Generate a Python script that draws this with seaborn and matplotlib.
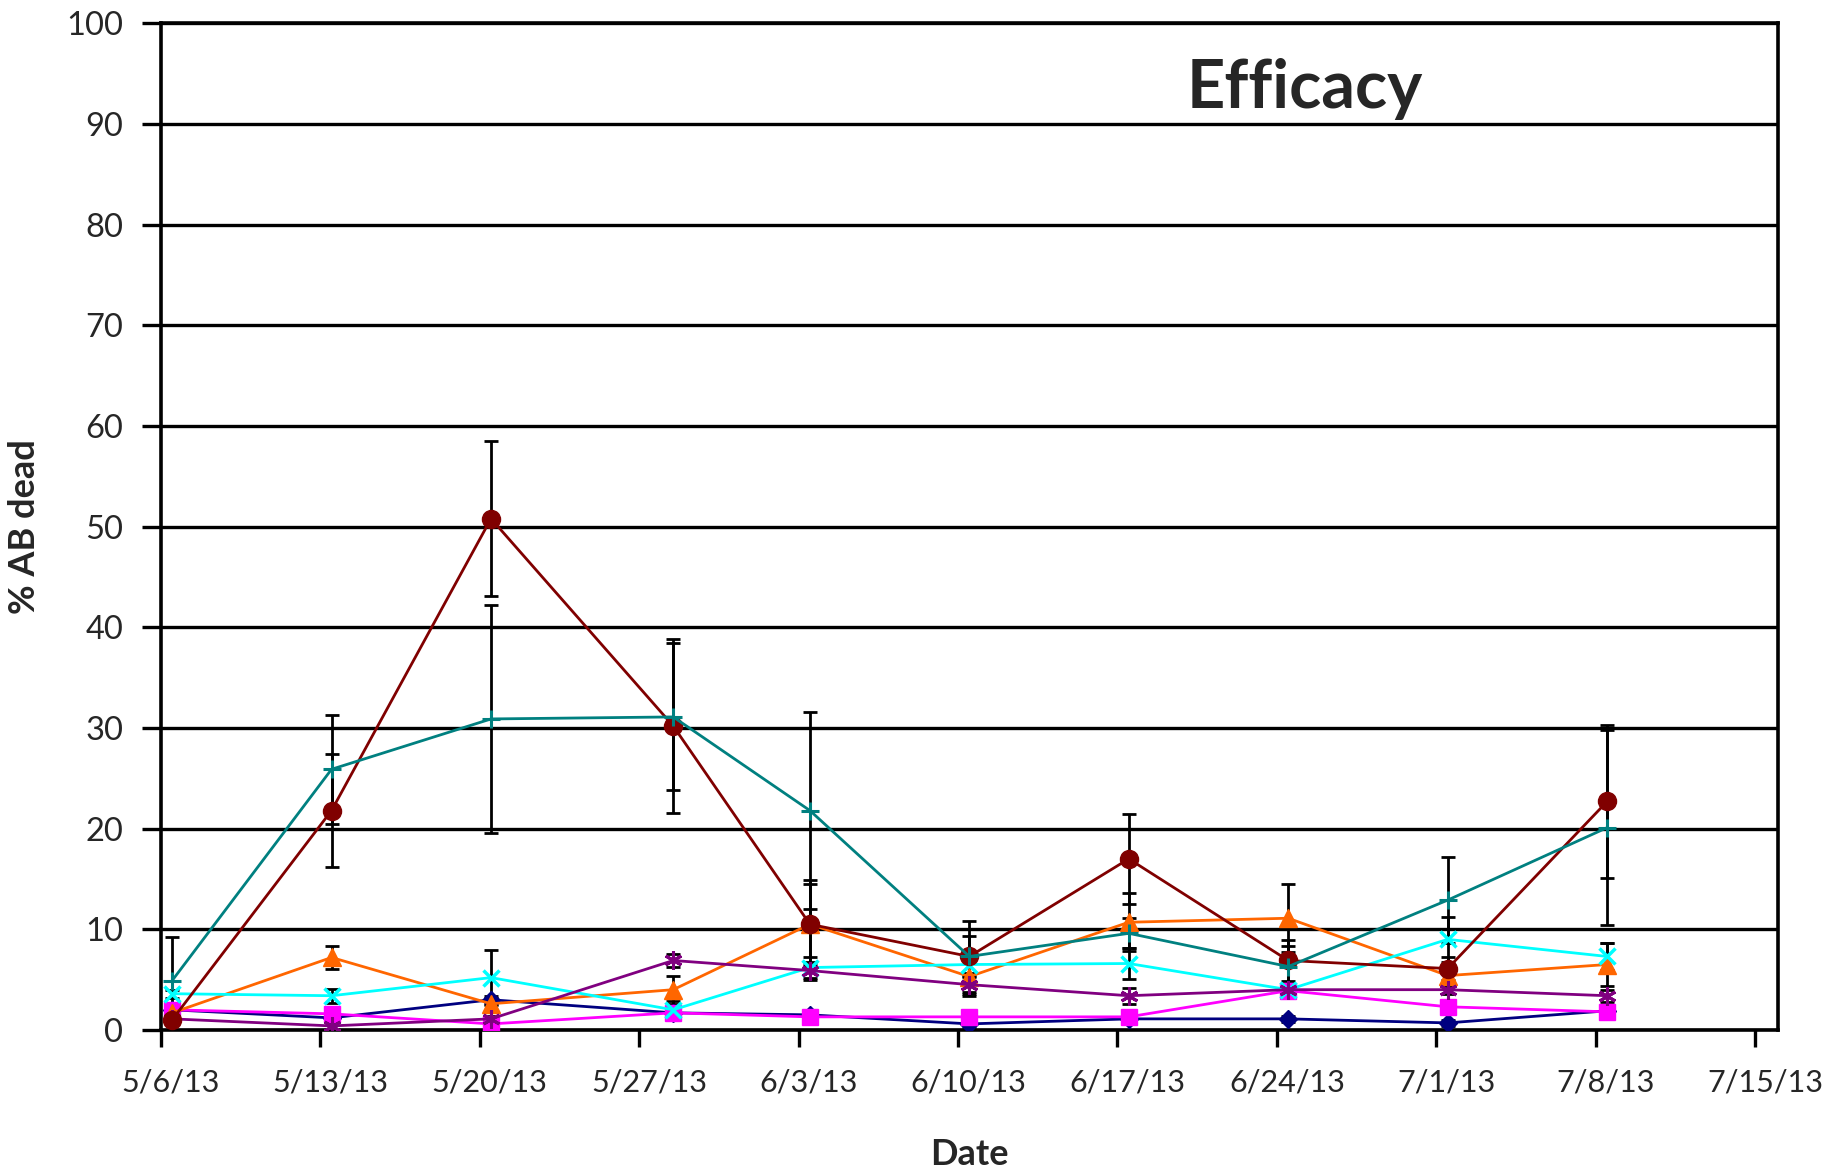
import matplotlib
matplotlib.use("Agg")
import matplotlib.pyplot as plt
from matplotlib.transforms import ScaledTranslation
import numpy as np
import pandas as pd
import seaborn as sns

# Sampling dates (points sit mid-day on the date axis)
sample_dates = ["2013-05-06", "2013-05-13", "2013-05-20", "2013-05-28", "2013-06-03",
                "2013-06-10", "2013-06-17", "2013-06-24", "2013-07-01", "2013-07-08"]

tick_dates = ["2013-05-06", "2013-05-13", "2013-05-20", "2013-05-27", "2013-06-03",
              "2013-06-10", "2013-06-17", "2013-06-24", "2013-07-01", "2013-07-08",
              "2013-07-15"]
tick_labels = ["5/6/13", "5/13/13", "5/20/13", "5/27/13", "6/3/13", "6/10/13",
               "6/17/13", "6/24/13", "7/1/13", "7/8/13", "7/15/13"]

# % AB dead per treatment, with error values
navy_vals = [2.0, 1.2, 3.0, 1.7, 1.5, 0.6, 1.1, 1.1, 0.7, 1.9]
navy_err = [0.5, 0.4, 0.4, 0.4, 0.3, 0.3, 0.3, 0.3, 0.3, 0.3]

magenta_vals = [2.0, 1.6, 0.6, 1.7, 1.3, 1.3, 1.3, 3.9, 2.3, 1.8]
magenta_err = [0.4, 0.4, 0.3, 0.4, 0.3, 0.3, 0.3, 0.5, 0.4, 0.3]

orange_vals = [1.7, 7.2, 2.6, 4.0, 10.5, 5.3, 10.7, 11.1, 5.4, 6.5]
orange_err = [0.5, 1.1, 0.6, 1.4, 4.0, 1.9, 2.9, 3.4, 1.0, 2.1]

cyan_vals = [3.6, 3.4, 5.2, 2.0, 6.2, 6.5, 6.6, 4.0, 9.0, 7.3]
cyan_err = [0.4, 0.7, 2.7, 0.9, 1.0, 0.8, 1.5, 0.6, 2.2, 1.3]

purple_vals = [1.1, 0.4, 1.1, 6.9, 5.9, 4.5, 3.4, 4.0, 4.0, 3.4]
purple_err = [0.3, 0.3, 0.3, 0.6, 0.9, 0.9, 0.8, 0.5, 0.4, 0.6]

maroon_vals = [1.0, 21.8, 50.8, 30.2, 10.5, 7.3, 17.0, 6.9, 6.1, 22.7]
maroon_err = [0.4, 5.6, 7.7, 8.6, 4.4, 3.5, 4.5, 2.0, 1.1, 7.6]

teal_vals = [4.9, 25.9, 30.9, 31.1, 21.8, 7.3, 9.6, 6.3, 12.9, 20.1]
teal_err = [4.3, 5.4, 11.3, 7.3, 9.8, 2.0, 1.5, 2.0, 4.3, 9.7]

sns.set_theme(style="white")
plt.rcParams["font.family"] = ["Lato", "DejaVu Sans"]

fig = plt.figure(figsize=(18.39, 11.68), dpi=100)
ax = fig.add_axes([0.0874, 0.1182, 0.8794, 0.8617])

x = pd.to_datetime(sample_dates) + pd.Timedelta(hours=12)

series = [
    (navy_vals, navy_err, "#000080", "D", 9, 1),
    (magenta_vals, magenta_err, "#FF00FF", "s", 11, 1),
    (orange_vals, orange_err, "#FF6600", "^", 13, 1),
    (cyan_vals, cyan_err, "#00FFFF", "x", 12, 2.5),
    (purple_vals, purple_err, "#800080", (6, 2, 0), 13, 2.2),
    (maroon_vals, maroon_err, "#800000", "o", 13, 1),
    (teal_vals, teal_err, "#008080", "+", 13, 2.2),
]

for vals, err, color, marker, ms, mew in series:
    df = pd.DataFrame({"date": x, "value": vals})
    ax.errorbar(df["date"], df["value"], yerr=err, fmt="none", ecolor="black",
                elinewidth=2.0, capsize=5, capthick=2.0, zorder=3)
    sns.lineplot(data=df, x="date", y="value", ax=ax, color=color, marker=marker,
                 markersize=ms, markeredgewidth=mew, markeredgecolor=color,
                 markerfacecolor=color, linewidth=2.0, zorder=4, legend=False)

# Axes limits and ticks
ax.set_ylim(0, 100)
ax.set_yticks(np.arange(0, 101, 10))
ax.set_xlim(pd.Timestamp("2013-05-06"), pd.Timestamp("2013-07-16"))
ax.set_xticks(pd.to_datetime(tick_dates))
ax.set_xticklabels(tick_labels)

ax.yaxis.grid(True, color="black", linewidth=2.4)
ax.xaxis.grid(False)
ax.set_axisbelow(True)
for sp in ax.spines.values():
    sp.set_color("black")
    sp.set_linewidth(2.6)

ax.tick_params(axis="y", direction="out", length=14, width=2.4, color="black",
               labelsize=23.5, pad=13, left=True)
ax.tick_params(axis="x", direction="out", length=12, width=2.4, color="black",
               labelsize=22, pad=16, bottom=True)
offset = ScaledTranslation(10 / 100, 0, fig.dpi_scale_trans)
for lab in ax.get_xticklabels():
    lab.set_transform(lab.get_transform() + offset)

ax.set_xlabel("Date", fontsize=26, fontweight="bold", labelpad=30)
ax.set_ylabel("% AB dead", fontsize=26, fontweight="bold", labelpad=18)

ax.text(0.7075, 0.916, "Efficacy", transform=ax.transAxes, ha="center",
        va="baseline", fontsize=48, fontweight="bold")

fig.savefig("out.png", dpi=100)
